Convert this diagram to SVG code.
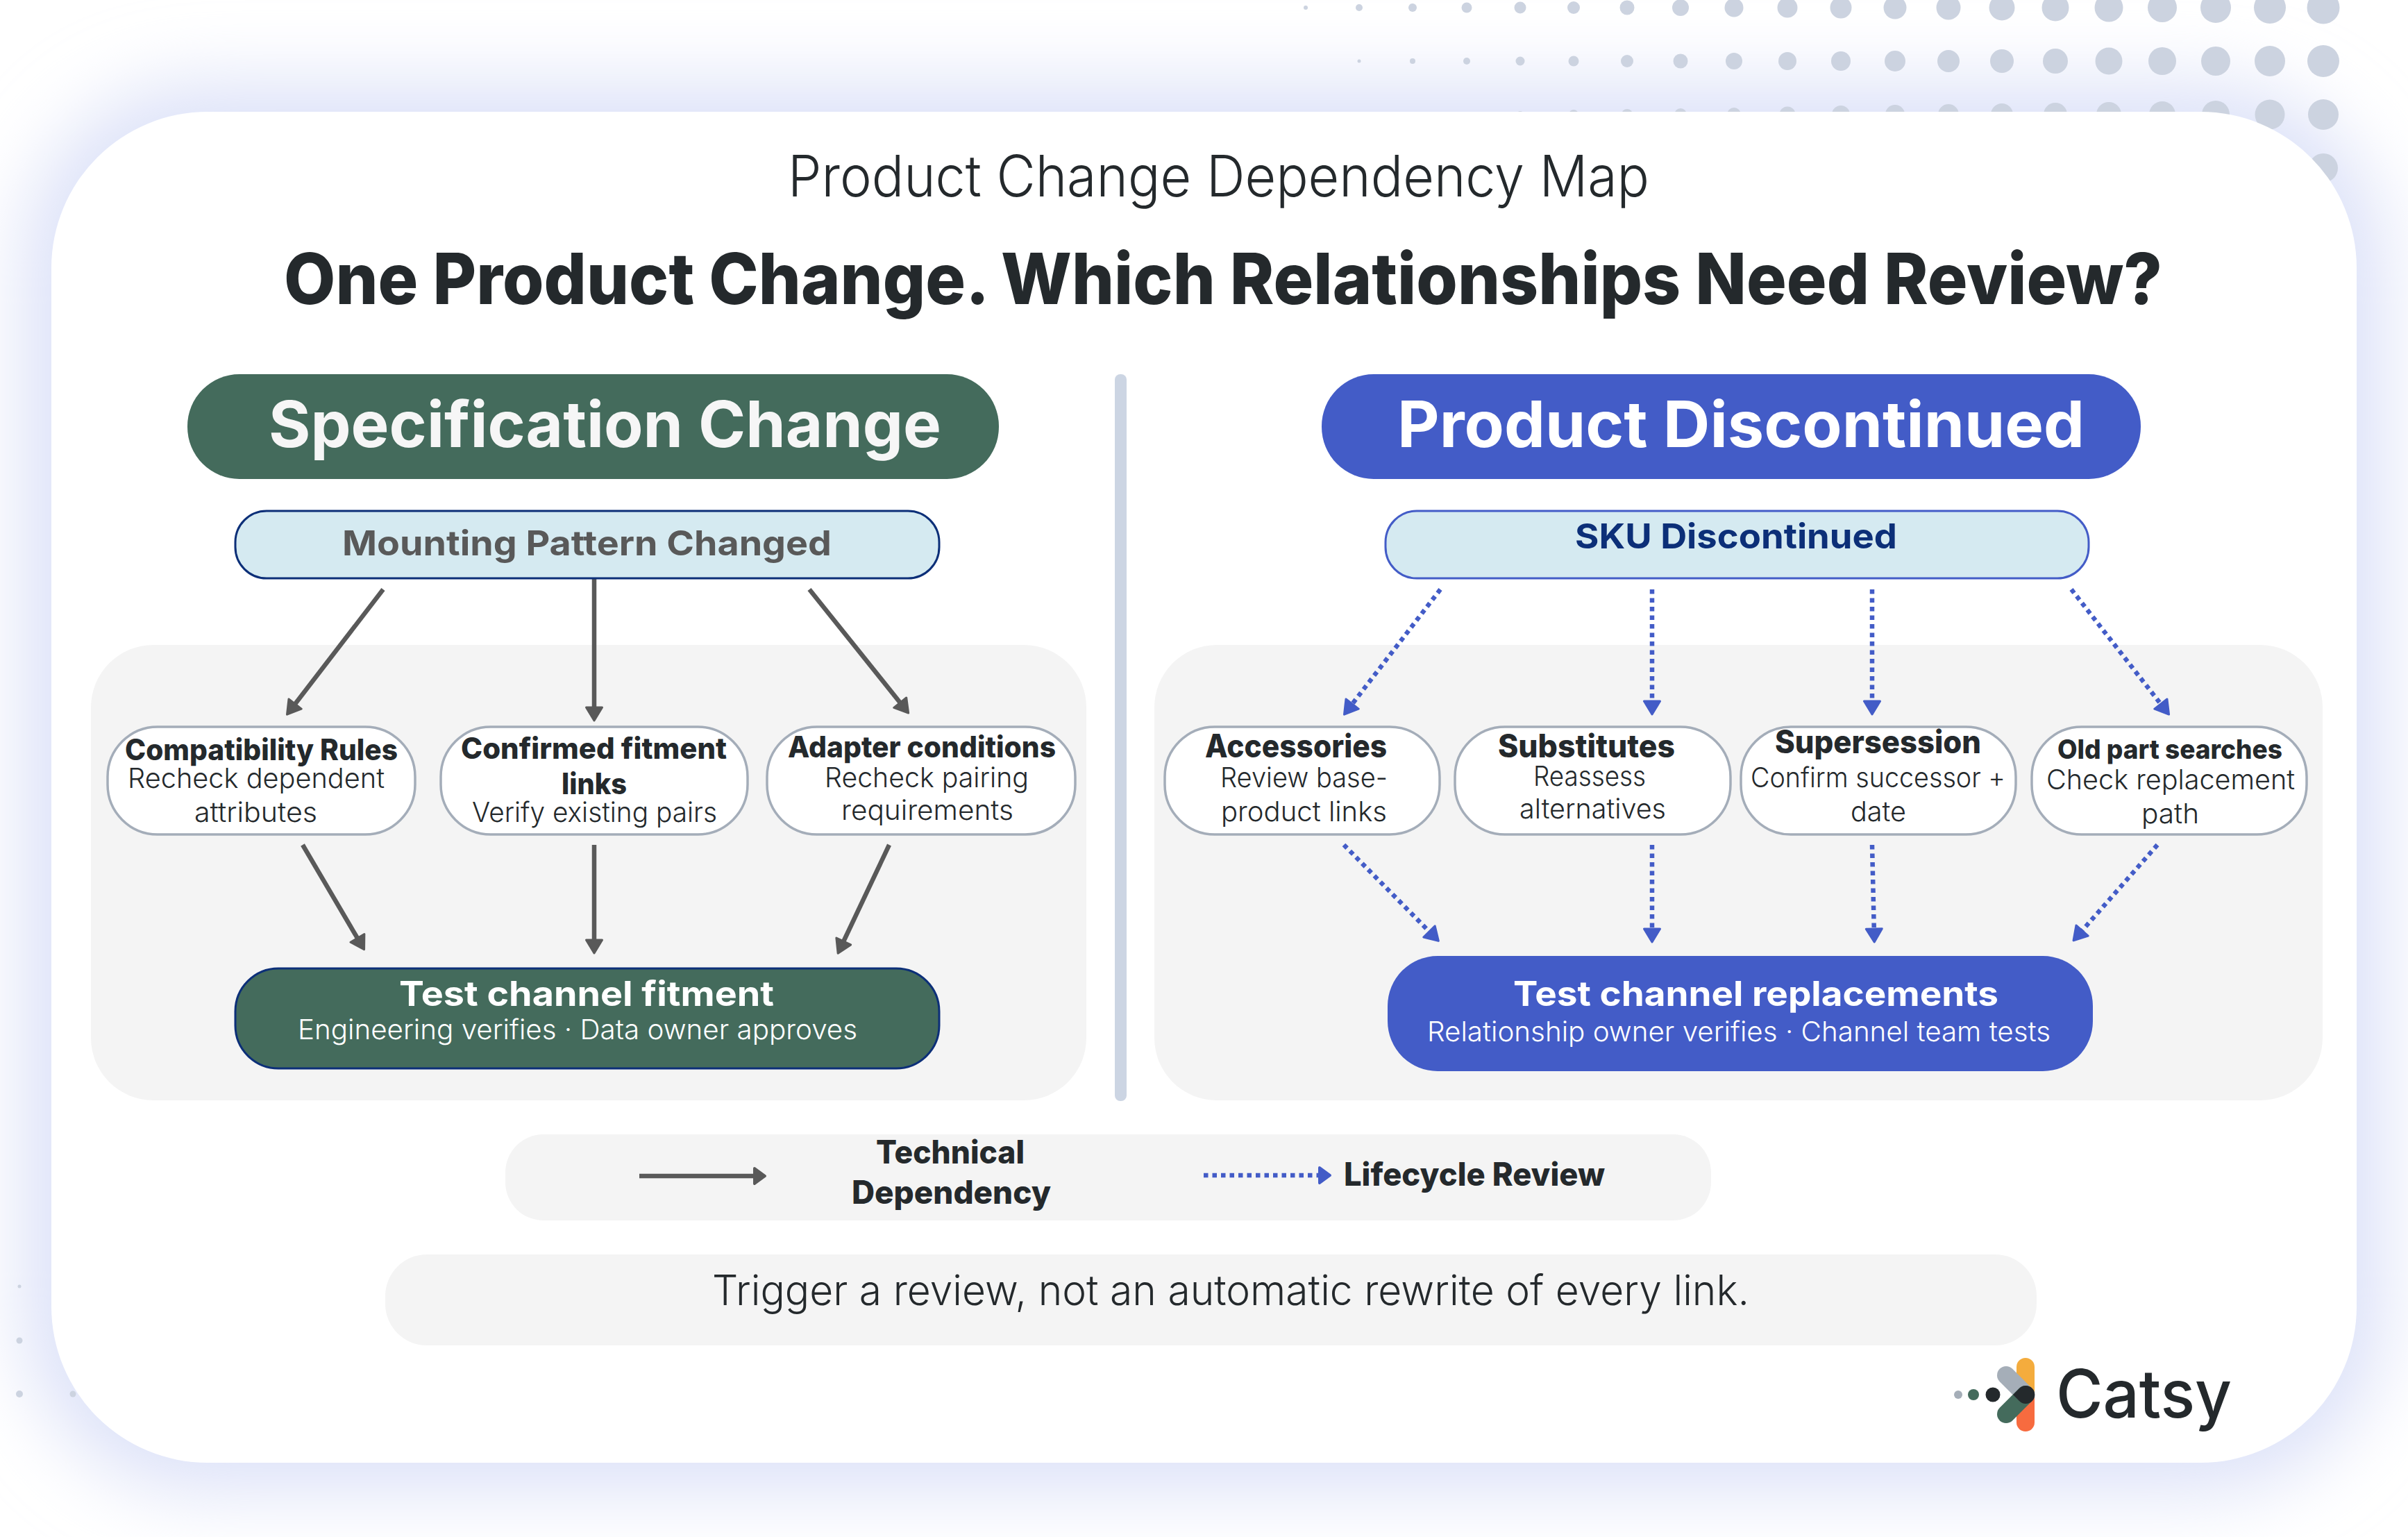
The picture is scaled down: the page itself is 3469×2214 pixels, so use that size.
<svg xmlns="http://www.w3.org/2000/svg" width="3469" height="2214" viewBox="0 0 3469 2214">
<style>
text{font-family:"Inter","Noto Sans","Liberation Sans",sans-serif;fill:#24292c}
.dot{fill:#ccd3e0}
.title{font-size:82px;font-weight:300}
.main{font-size:102px;font-weight:800}
.hdr{font-size:92px;font-weight:700;fill:#f6f6f6}
.trig{font-size:50px;font-weight:700}
.b{font-size:42px;font-weight:800}
.l{font-size:40px;font-weight:300}
.tb{font-size:50px;font-weight:700;fill:#fff}
.ts{font-size:40px;font-weight:300;fill:#fff}
.leg{font-size:46px;font-weight:800}
.node{fill:#fff;stroke:#a4adb9;stroke-width:3.5}
.panel{fill:#f4f4f4}
.tech{stroke:#595959;stroke-width:6.5;fill:none;marker-end:url(#ah)}
.life{stroke:#435cc7;stroke-width:6.5;fill:none;stroke-dasharray:6.5 6;marker-end:url(#ab)}
</style>
<defs>
<filter id="glow" x="-20%" y="-20%" width="140%" height="140%"><feGaussianBlur stdDeviation="55"/></filter>
<marker id="ah" markerUnits="userSpaceOnUse" markerWidth="24" markerHeight="30" viewBox="0 0 24 30" refX="12" refY="15" orient="auto"><path d="M2 3.5 L21 15 L2 26.5Z" fill="#595959" stroke="#595959" stroke-width="3" stroke-linejoin="round"/></marker>
<marker id="ab" markerUnits="userSpaceOnUse" markerWidth="24" markerHeight="30" viewBox="0 0 24 30" refX="12" refY="15" orient="auto"><path d="M2 3.5 L21 15 L2 26.5Z" fill="#435cc7" stroke="#435cc7" stroke-width="3" stroke-linejoin="round"/></marker>
</defs>
<rect width="3469" height="2214" fill="#fff"/>
<rect x="34" y="121" width="3401" height="2026" rx="260" fill="#dce1f8" filter="url(#glow)"/>
<g id="dots">
<circle class="dot" cx="1881" cy="11" r="3"/><circle class="dot" cx="1958" cy="11" r="5"/><circle class="dot" cx="2035" cy="11" r="6"/><circle class="dot" cx="2113" cy="11" r="7.5"/><circle class="dot" cx="2190" cy="11" r="8.5"/><circle class="dot" cx="2267" cy="11" r="9"/><circle class="dot" cx="2344" cy="11" r="10.5"/><circle class="dot" cx="2421" cy="11" r="12"/><circle class="dot" cx="2498" cy="11" r="13.5"/><circle class="dot" cx="2575" cy="11" r="14.5"/><circle class="dot" cx="2652" cy="11" r="15.5"/><circle class="dot" cx="2730" cy="11" r="16.5"/><circle class="dot" cx="2807" cy="11" r="17.5"/><circle class="dot" cx="2884" cy="11" r="18.5"/><circle class="dot" cx="2961" cy="11" r="19.5"/><circle class="dot" cx="3038" cy="11" r="20.5"/><circle class="dot" cx="3115" cy="11" r="21"/><circle class="dot" cx="3192" cy="11" r="22"/><circle class="dot" cx="3270" cy="11" r="23"/><circle class="dot" cx="3347" cy="11" r="23.5"/>
<circle class="dot" cx="1958" cy="88" r="2.5"/><circle class="dot" cx="2035" cy="88" r="4"/><circle class="dot" cx="2113" cy="88" r="5"/><circle class="dot" cx="2190" cy="88" r="6.5"/><circle class="dot" cx="2267" cy="88" r="7.5"/><circle class="dot" cx="2344" cy="88" r="9"/><circle class="dot" cx="2421" cy="88" r="10.5"/><circle class="dot" cx="2498" cy="88" r="12"/><circle class="dot" cx="2575" cy="88" r="13"/><circle class="dot" cx="2652" cy="88" r="14"/><circle class="dot" cx="2730" cy="88" r="15"/><circle class="dot" cx="2807" cy="88" r="16"/><circle class="dot" cx="2884" cy="88" r="17"/><circle class="dot" cx="2961" cy="88" r="18"/><circle class="dot" cx="3038" cy="88" r="19.5"/><circle class="dot" cx="3115" cy="88" r="20"/><circle class="dot" cx="3192" cy="88" r="21"/><circle class="dot" cx="3270" cy="88" r="22"/><circle class="dot" cx="3347" cy="88" r="23"/>
<circle class="dot" cx="2190" cy="165" r="5"/><circle class="dot" cx="2267" cy="165" r="7"/><circle class="dot" cx="2344" cy="165" r="8"/><circle class="dot" cx="2421" cy="165" r="9"/><circle class="dot" cx="2498" cy="165" r="10"/><circle class="dot" cx="2575" cy="165" r="11.5"/><circle class="dot" cx="2652" cy="165" r="13"/><circle class="dot" cx="2730" cy="165" r="14"/><circle class="dot" cx="2807" cy="165" r="15"/><circle class="dot" cx="2884" cy="165" r="16"/><circle class="dot" cx="2961" cy="165" r="17"/><circle class="dot" cx="3038" cy="165" r="18"/><circle class="dot" cx="3115" cy="165" r="19"/><circle class="dot" cx="3192" cy="165" r="20"/><circle class="dot" cx="3270" cy="165" r="21.5"/><circle class="dot" cx="3347" cy="165" r="22"/>
<circle class="dot" cx="3347" cy="242" r="21"/>
<circle class="dot" cx="28" cy="1853" r="2.5"/><circle class="dot" cx="28" cy="1931" r="4.5"/><circle class="dot" cx="28" cy="2008" r="5"/><circle class="dot" cx="105" cy="2008" r="4.5"/>
</g>
<rect id="card" x="74" y="161" width="3321" height="1946" rx="225" fill="#fff"/>
<g id="heading">
<text class="title" x="1135" y="283" textLength="1241" lengthAdjust="spacingAndGlyphs">Product Change Dependency Map</text>
<text class="main" x="409" y="438" textLength="2706" lengthAdjust="spacingAndGlyphs">One Product Change. Which Relationships Need Review?</text>
</g>
<rect id="divider" x="1606" y="539" width="17" height="1047" rx="8" fill="#ccd5e3"/>
<rect id="panel-left" class="panel" x="131" y="929" width="1434" height="656" rx="90"/>
<rect id="panel-right" class="panel" x="1663" y="929" width="1683" height="656" rx="90"/>
<g id="connectors">
<line class="tech" x1="552" y1="849" x2="419" y2="1022"/>
<line class="tech" x1="856" y1="833" x2="856" y2="1029"/>
<line class="tech" x1="1166" y1="849" x2="1303" y2="1020"/>
<line class="tech" x1="436" y1="1217" x2="520" y2="1360"/>
<line class="tech" x1="856" y1="1217" x2="856" y2="1364"/>
<line class="tech" x1="1281" y1="1217" x2="1211" y2="1365"/>
<line class="life" x1="2075" y1="849" x2="1942" y2="1022"/>
<line class="life" x1="2380" y1="849" x2="2380" y2="1020"/>
<line class="life" x1="2697" y1="849" x2="2697" y2="1020"/>
<line class="life" x1="2984" y1="849" x2="3119" y2="1022"/>
<line class="life" x1="1936" y1="1217" x2="2066" y2="1349"/>
<line class="life" x1="2380" y1="1217" x2="2380" y2="1348"/>
<line class="life" x1="2697" y1="1217" x2="2700" y2="1348"/>
<line class="life" x1="3108" y1="1217" x2="2993" y2="1348"/>
</g>
<g id="spec-change"><rect x="270" y="539" width="1169" height="151" rx="75" fill="#446b5c"/><text class="hdr" x="387" y="644" textLength="969" lengthAdjust="spacingAndGlyphs">Specification Change</text></g>
<g id="product-discontinued"><rect x="1904" y="539" width="1180" height="151" rx="75" fill="#435cc7"/><text class="hdr" x="2013" y="644" textLength="990" lengthAdjust="spacingAndGlyphs" style="fill:#fff">Product Discontinued</text></g>
<g id="mounting"><rect x="339" y="736" width="1014" height="97" rx="45" fill="#d5eaf1" stroke="#0c2f78" stroke-width="3"/><text class="trig" style="fill:#595959" x="493" y="800" textLength="705" lengthAdjust="spacingAndGlyphs">Mounting Pattern Changed</text></g>
<g id="sku"><rect x="1996" y="736" width="1013" height="97" rx="45" fill="#d5eaf1" stroke="#435cc7" stroke-width="3"/><text class="trig" style="fill:#0c2f78" x="2269" y="790" textLength="464" lengthAdjust="spacingAndGlyphs">SKU Discontinued</text></g>
<g id="compat"><rect class="node" x="155" y="1047" width="443" height="155" rx="72"/><text class="b" x="180" y="1095" textLength="393" lengthAdjust="spacingAndGlyphs">Compatibility Rules</text><text class="l" x="184" y="1135" textLength="370" lengthAdjust="spacingAndGlyphs">Recheck dependent</text><text class="l" x="280" y="1184" textLength="177" lengthAdjust="spacingAndGlyphs">attributes</text></g>
<g id="confirmed"><rect class="node" x="635" y="1047" width="442" height="155" rx="72"/><text class="b" x="664" y="1093" textLength="383" lengthAdjust="spacingAndGlyphs">Confirmed fitment</text><text class="b" x="809" y="1144" textLength="94" lengthAdjust="spacingAndGlyphs">links</text><text class="l" x="680" y="1184" textLength="353" lengthAdjust="spacingAndGlyphs">Verify existing pairs</text></g>
<g id="adapter"><rect class="node" x="1105" y="1047" width="444" height="155" rx="72"/><text class="b" x="1135" y="1091" textLength="386" lengthAdjust="spacingAndGlyphs">Adapter conditions</text><text class="l" x="1188" y="1134" textLength="294" lengthAdjust="spacingAndGlyphs">Recheck pairing</text><text class="l" x="1212" y="1181" textLength="248" lengthAdjust="spacingAndGlyphs">requirements</text></g>
<g id="test-fitment"><rect x="339" y="1395" width="1014" height="144" rx="62" fill="#446b5c" stroke="#0c2f78" stroke-width="3"/><text class="tb" x="575" y="1449" textLength="540" lengthAdjust="spacingAndGlyphs">Test channel fitment</text><text class="ts" x="429" y="1497" textLength="806" lengthAdjust="spacingAndGlyphs">Engineering verifies · Data owner approves</text></g>
<g id="accessories"><rect class="node" x="1678" y="1047" width="396" height="155" rx="72"/><text class="b" style="font-size:46px" x="1736" y="1091" textLength="262" lengthAdjust="spacingAndGlyphs">Accessories</text><text class="l" x="1758" y="1134" textLength="241" lengthAdjust="spacingAndGlyphs">Review base-</text><text class="l" x="1759" y="1183" textLength="239" lengthAdjust="spacingAndGlyphs">product links</text></g>
<g id="substitutes"><rect class="node" x="2096" y="1047" width="397" height="155" rx="72"/><text class="b" style="font-size:46px" x="2158" y="1091" textLength="255" lengthAdjust="spacingAndGlyphs">Substitutes</text><text class="l" x="2209" y="1132" textLength="162" lengthAdjust="spacingAndGlyphs">Reassess</text><text class="l" x="2189" y="1179" textLength="211" lengthAdjust="spacingAndGlyphs">alternatives</text></g>
<g id="supersession"><rect class="node" x="2508" y="1047" width="396" height="155" rx="72"/><text class="b" style="font-size:46px" x="2557" y="1085" textLength="297" lengthAdjust="spacingAndGlyphs">Supersession</text><text class="l" x="2522" y="1134" textLength="367" lengthAdjust="spacingAndGlyphs">Confirm successor +</text><text class="l" x="2666" y="1183" textLength="80" lengthAdjust="spacingAndGlyphs">date</text></g>
<g id="old-part"><rect class="node" x="2927" y="1047" width="396" height="155" rx="72"/><text class="b" style="font-size:38px" x="2964" y="1093" textLength="324" lengthAdjust="spacingAndGlyphs">Old part searches</text><text class="l" x="2948" y="1137" textLength="358" lengthAdjust="spacingAndGlyphs">Check replacement</text><text class="l" x="3085" y="1186" textLength="83" lengthAdjust="spacingAndGlyphs">path</text></g>
<g id="test-replacements"><rect x="1999" y="1377" width="1016" height="166" rx="72" fill="#435cc7"/><text class="tb" x="2180" y="1449" textLength="699" lengthAdjust="spacingAndGlyphs">Test channel replacements</text><text class="ts" x="2056" y="1500" textLength="898" lengthAdjust="spacingAndGlyphs">Relationship owner verifies · Channel team tests</text></g>
<g id="legend"><rect class="panel" x="728" y="1634" width="1737" height="124" rx="55"/>
<line x1="921" y1="1694" x2="1090" y2="1694" stroke="#595959" stroke-width="6.5"/><path d="M1087 1683 L1102 1694 L1087 1705Z" fill="#595959" stroke="#595959" stroke-width="4" stroke-linejoin="round"/>
<text class="leg" x="1262" y="1676" textLength="214" lengthAdjust="spacingAndGlyphs">Technical</text><text class="leg" x="1227" y="1734" textLength="287" lengthAdjust="spacingAndGlyphs">Dependency</text>
<line x1="1734" y1="1693" x2="1905" y2="1693" stroke="#435cc7" stroke-width="6.5" stroke-dasharray="6.5 6"/><path d="M1901 1682 L1916 1693 L1901 1704Z" fill="#435cc7" stroke="#435cc7" stroke-width="4" stroke-linejoin="round"/>
<text class="leg" x="1936" y="1708" textLength="376" lengthAdjust="spacingAndGlyphs">Lifecycle Review</text></g>
<g id="note"><rect class="panel" x="555" y="1807" width="2379" height="131" rx="60"/><text style="font-size:60px;font-weight:300" x="1026" y="1880" textLength="1494" lengthAdjust="spacingAndGlyphs">Trigger a review, not an automatic rewrite of every link.</text></g>
<g id="logo">
<circle cx="2821" cy="2009" r="6" fill="#a5aeb8"/><circle cx="2843" cy="2009" r="8" fill="#446b5c"/><circle cx="2871" cy="2009" r="10.5" fill="#24292c"/>
<path d="M2905 2009V1969a13 13 0 0 1 26 0V2009Z" fill="#f4ac3d"/><path d="M2905 2009V2049a13 13 0 0 0 26 0V2009Z" fill="#f76b3f"/>
<line x1="2890" y1="1981" x2="2918" y2="2009" stroke="#a5aeb8" stroke-width="26" stroke-linecap="round"/>
<line x1="2890" y1="2037" x2="2918" y2="2009" stroke="#446b5c" stroke-width="26" stroke-linecap="round"/>
<path d="M2900 2009L2909 2000A13 13 0 1 1 2909 2018Z" fill="#24292c"/>
<text style="font-size:96px;font-weight:500" x="2962" y="2042" textLength="253" lengthAdjust="spacingAndGlyphs">Catsy</text>
</g>
</svg>
